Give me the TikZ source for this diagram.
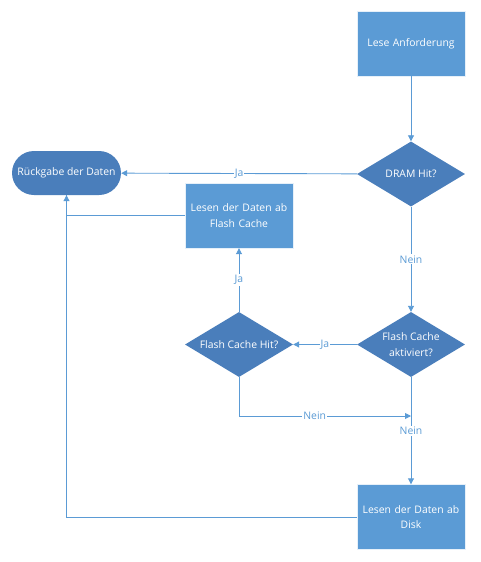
\documentclass[tikz,border=0pt]{standalone}
\usepackage{fontspec}
\setmainfont{Open Sans}
\usepackage{xcolor}
\usetikzlibrary{arrows.meta,shapes.geometric}

\definecolor{boxblue}{HTML}{5B9BD5}
\definecolor{decblue}{HTML}{4A7EBB}
\definecolor{lineblue}{HTML}{5B9BD5}

\begin{document}
\begin{tikzpicture}[
  x=1pt, y=-1pt,
  font=\fontsize{10.4}{15.5}\selectfont,
  procbox/.style={rectangle, fill=boxblue, draw=white!85!boxblue, text=white,
                  minimum width=108pt, minimum height=65pt, align=center,
                  text width=104pt, inner sep=2pt},
  decision/.style={diamond, fill=decblue, text=white, aspect=1.66,
                   minimum width=108pt, minimum height=65pt, align=center,
                   inner sep=0pt},
  terminal/.style={rectangle, rounded corners=22pt, fill=decblue, text=white,
                   minimum width=109pt, minimum height=44pt, align=center,
                   inner sep=1pt},
  arr/.style={-{Triangle[length=6pt,width=6pt]}, draw=lineblue, line width=0.9pt},
  conn/.style={draw=lineblue, line width=0.9pt},
  lbl/.style={fill=white, text=lineblue, inner sep=1pt}
]
\useasboundingbox (0,0) rectangle (480,562);

\node[procbox] (request) at (411,43.5) {Lese Anforderung};
\node[decision] (dram) at (411,174) {DRAM Hit?};
\node[terminal] (result) at (66.5,173) {Rückgabe der Daten};
\node[procbox] (flashread) at (239,215.5) {Lesen der Daten ab\\Flash Cache};
\node[decision] (flashhit) at (239,344.5) {Flash Cache Hit?};
\node[decision] (flashon) at (411,344.5) {Flash Cache\\aktiviert?};
\node[procbox] (diskread) at (411,517) {Lesen der Daten ab\\Disk};
\coordinate (merge) at (411,416);

% main path
\draw[arr] (request) -- (dram);
\draw[arr] (dram) -- node[lbl] {Ja} (result);
\draw[arr] (dram) -- node[lbl] {Nein} (flashon);
\draw[arr] (flashon) -- node[lbl] {Ja} (flashhit);
\draw[arr] (flashhit) -- node[lbl] {Ja} (flashread);
\draw[arr] (flashhit.south) |- node[lbl, pos=0.72] {Nein} (merge);
\draw[arr] (flashon) -- node[lbl, pos=0.5] {Nein} (diskread);

% back to result
\draw[conn] (flashread.west) -| (result.south);
\draw[arr] (diskread.west) -| (result.south);
\end{tikzpicture}
\end{document}
